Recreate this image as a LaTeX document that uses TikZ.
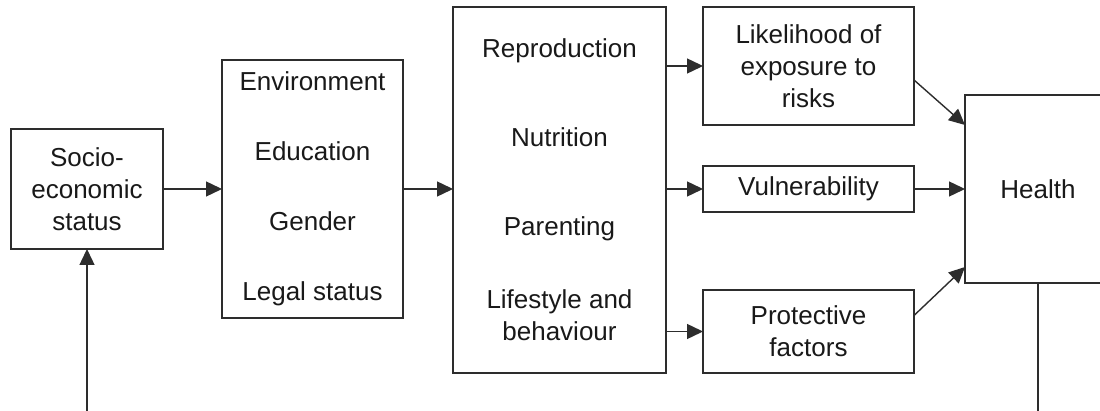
\documentclass[tikz,border=0pt]{standalone}
\usepackage{fontspec}
\setmainfont{Liberation Sans}
\usepackage{tikz}
\usetikzlibrary{arrows.meta,positioning,calc}
\definecolor{linegray}{RGB}{45,45,45}

\begin{document}
\begin{tikzpicture}[x=1pt,y=-1pt,
  box/.style={draw=linegray, line width=1.4pt, inner sep=0pt, outer sep=0pt,
              align=center, text=black!90, font=\fontsize{26}{32}\selectfont},
  arrow/.style={-{Triangle[length=16pt,width=15pt]}, line width=1.4pt, linegray}
]
\clip (0,0) rectangle (1100,411);
\fill[white] (0,0) rectangle (1100,411);
\node[box, minimum width=152pt, minimum height=120pt] (socio) at (87,189)
  {Socio-\\economic\\status};
\node[box, minimum width=181pt, minimum height=258pt] (env) at (312.5,189)
  {Environment\\[38pt]Education\\[38pt]Gender\\[38pt]Legal status};
\node[box, minimum width=213pt, minimum height=366pt] (mid) at (559.5,190)
  {Reproduction\\[57pt]Nutrition\\[57pt]Parenting\\[41pt]Lifestyle and\\behaviour};
\node[box, minimum width=211pt, minimum height=118pt] (risk) at (808.5,66)
  {Likelihood of\\exposure to\\risks};
\node[box, minimum width=211pt, minimum height=46pt] (vuln) at (808.5,189)
  {Vulnerability};
\node[box, minimum width=211pt, minimum height=83pt] (prot) at (808.5,331.5)
  {Protective\\factors};
\node[box, minimum width=146pt, minimum height=188pt] (health) at (1038,189)
  {Health};
\coordinate (loopin) at (87,420);
\coordinate (loopout) at (1038,420);
\draw[arrow] (socio.east) -- (socio.east -| env.west);
\draw[arrow] (env.east) -- (env.east -| mid.west);
\draw[arrow] (risk.west -| mid.east) -- (risk.west);
\draw[arrow] (vuln.west -| mid.east) -- (vuln.west);
\draw[arrow] (prot.west -| mid.east) -- (prot.west);
\draw[arrow] ([yshift=-14pt]risk.east) -- ([yshift=-30pt]health.north west);
\draw[arrow] (vuln.east) -- (vuln.east -| health.west);
\draw[arrow] ([yshift=16pt]prot.east) -- ([yshift=16pt]health.south west);
\draw[arrow] (loopin) -- (socio.south);
\draw[line width=1.4pt, linegray] (health.south) -- (loopout);
\end{tikzpicture}
\end{document}
